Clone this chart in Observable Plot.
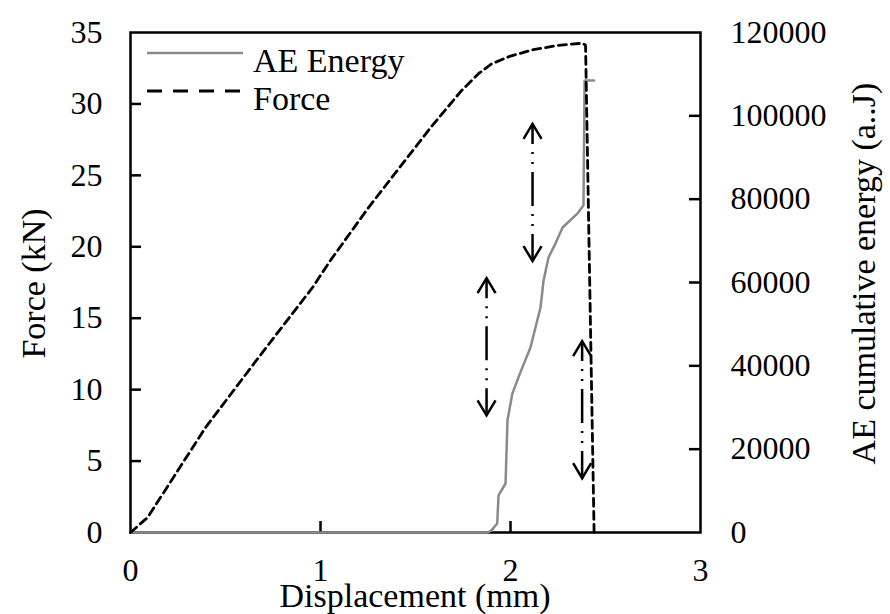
<!DOCTYPE html>
<html><head><meta charset="utf-8">
<script src="https://cdn.jsdelivr.net/npm/d3@7"></script>
<script src="https://cdn.jsdelivr.net/npm/@observablehq/plot@0.6"></script>
<style>
html,body{margin:0;padding:0;background:#fff}
</style>
</head><body><div id="chart"></div>
<script>
// Force curve (dashed)
const forceDisplacement = [0, 0.09, 0.395, 0.674, 0.958, 1.05, 1.25, 1.58, 1.74, 1.83, 1.9, 2.0, 2.12, 2.25, 2.38, 2.395, 2.44];
const forceValues       = [0, 1.05, 7.35, 12.25, 17.15, 19.0, 22.7, 28.35, 30.9, 32.1, 32.8, 33.35, 33.8, 34.1, 34.25, 34.1, 0];
// AE cumulative energy (gray solid)
const aeDisplacement = [0, 1.88, 1.9, 1.93, 1.937, 1.974, 1.984, 2.01, 2.05, 2.105, 2.158, 2.174, 2.2, 2.237, 2.274, 2.353, 2.384, 2.39, 2.44];
const aeEnergy       = [0, 0, 500, 2160, 8900, 11760, 26900, 33400, 38200, 44400, 54000, 60500, 66000, 69400, 73200, 76600, 78500, 108500, 108500];
// Ticks
const forceTicks = [0, 5, 10, 15, 20, 25, 30, 35];
const forceTickMarks = [5, 10, 15, 20, 25, 30];
const energyTicks = [0, 20000, 40000, 60000, 80000, 100000, 120000];
const energyTickMarks = [20000, 40000, 60000, 80000, 100000];
const displacementTicks = [0, 1, 2, 3];
const displacementTickMarks = [1, 2];
// Double-headed annotation arrows
const arrowX = [2.116, 1.874, 2.377];
const arrowTop = [28.6, 17.8, 13.4];
const arrowBottom = [19.0, 8.2, 3.8];
// Texts
const legendLabels = ["AE Energy", "Force"];
const xTitle = "Displacement (mm)";
const yLeftTitle = "Force (kN)";
const yRightTitle = "AE cumulative energy (a..J)";

const k = 35 / 120000; // energy -> force-axis units
const forceData = forceDisplacement.map((x, i) => ({x, f: forceValues[i]}));
const aeData = aeDisplacement.map((x, i) => ({x, e: aeEnergy[i]}));
const arrows = arrowX.map((x, i) => ({x, top: arrowTop[i], bottom: arrowBottom[i]}));

const upHead = {draw(ctx) { ctx.moveTo(-9, 15); ctx.lineTo(0, 0); ctx.lineTo(9, 15); }};
const downHead = {draw(ctx) { ctx.moveTo(-9, -15); ctx.lineTo(0, 0); ctx.lineTo(9, -15); }};

const W = 890, H = 614, ML = 130, MR = 190, MT = 32, MB = 82;
const innerW = W - ML - MR, innerH = H - MT - MB;
const tickLen = 11;
const FONT = "Liberation Serif, Tinos, Times New Roman, DejaVu Serif, serif";

const chart = Plot.plot({
  width: W, height: H,
  marginLeft: ML, marginRight: MR, marginTop: MT, marginBottom: MB,
  x: {domain: [0, 3]},
  y: {domain: [0, 35]},
  style: {fontFamily: FONT, fontSize: "32px"},
  marks: [
    Plot.frame({stroke: "black", strokeWidth: 2.5}),
    Plot.tickY(forceTickMarks, {y: d => d, insetRight: innerW - tickLen, stroke: "black", strokeWidth: 2.5}),
    Plot.tickY(energyTickMarks, {y: d => d * k, insetLeft: innerW - tickLen, stroke: "black", strokeWidth: 2.5}),
    Plot.tickX(displacementTickMarks, {x: d => d, insetTop: innerH - tickLen, stroke: "black", strokeWidth: 2.5}),
    Plot.axisY(forceTicks, {anchor: "left", tickSize: 0, tickPadding: 28, label: null, fontSize: 32,
      tickFormat: d => String(d)}),
    Plot.axisY(energyTicks.map(e => e * k), {anchor: "right", tickSize: 0, tickPadding: 30, label: null, fontSize: 32,
      tickFormat: v => String(Math.round(v / k))}),
    Plot.axisX(displacementTicks, {tickSize: 0, tickPadding: 26, label: null, fontSize: 32,
      tickFormat: d => String(d)}),
    Plot.line(aeData, {x: "x", y: d => d.e * k, stroke: "#8a8a8a", strokeWidth: 2.5}),
    Plot.line(forceData, {x: "x", y: "f", stroke: "black", strokeWidth: 2.8, strokeDasharray: "8,5"}),
    Plot.link(arrows, {x1: "x", x2: "x", y1: "top", y2: "bottom", stroke: "black", strokeWidth: 2.5,
      strokeDasharray: "20,8,2,8,2,8,34,8,2,8,2,8,40"}),
    Plot.dot(arrows, {x: "x", y: "top", symbol: upHead, fill: "none", stroke: "black", strokeWidth: 2.5}),
    Plot.dot(arrows, {x: "x", y: "bottom", symbol: downHead, fill: "none", stroke: "black", strokeWidth: 2.5})
  ]
});
document.getElementById("chart").append(chart);

const svg = d3.select(chart);
function addText(t, attrs) {
  const el = svg.append("text").attr("font-family", FONT).attr("font-size", 34)
    .attr("fill", "black").attr("text-anchor", "start").text(t);
  for (const [a, v] of Object.entries(attrs)) el.attr(a, v);
}
addText(yLeftTitle, {transform: "translate(45,283.5) rotate(-90)", "text-anchor": "middle"});
addText(yRightTitle, {transform: "translate(875,273.5) rotate(-90)", "text-anchor": "middle"});
addText(xTitle, {x: 415, y: 607, "text-anchor": "middle"});
// legend
svg.append("line").attr("x1", 147).attr("x2", 243).attr("y1", 53).attr("y2", 53)
  .attr("stroke", "#8a8a8a").attr("stroke-width", 2.5);
addText(legendLabels[0], {x: 253, y: 72});
svg.append("line").attr("x1", 147).attr("x2", 245).attr("y1", 91).attr("y2", 91)
  .attr("stroke", "black").attr("stroke-width", 2.8).attr("stroke-dasharray", "15,11");
addText(legendLabels[1], {x: 253, y: 110});
</script>
</body></html>
